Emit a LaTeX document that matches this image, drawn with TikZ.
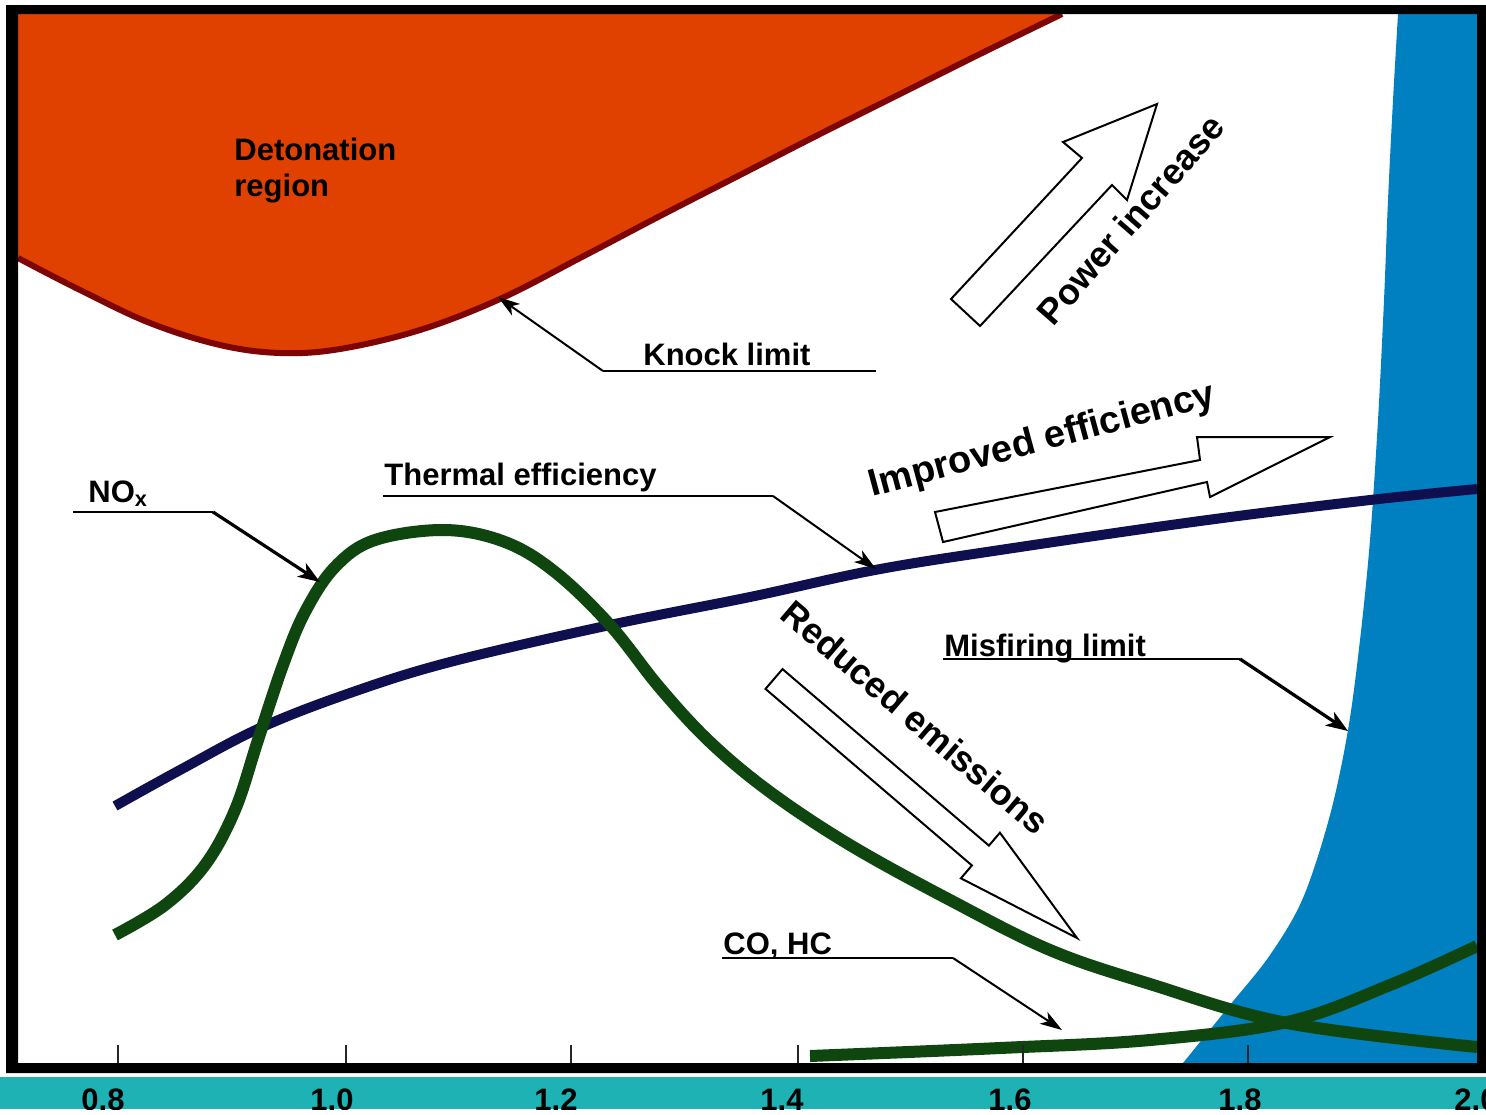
\documentclass[tikz,border=0pt]{standalone}
\usepackage{fontspec}
\setmainfont{Liberation Sans}
\usetikzlibrary{arrows.meta}
\definecolor{detorange}{RGB}{224,64,0}
\definecolor{knockred}{RGB}{125,5,5}
\definecolor{misblue}{RGB}{0,128,192}
\definecolor{thermnavy}{RGB}{15,15,80}
\definecolor{noxgreen}{RGB}{15,70,15}
\definecolor{bandteal}{RGB}{30,178,180}
\begin{document}
\begin{tikzpicture}[x=0.5pt,y=-0.5pt,
  lbl/.style={font=\fontsize{15.5}{18}\selectfont\bfseries, inner sep=0pt, anchor=base west},
  big/.style={font=\fontsize{18}{21}\selectfont\bfseries, inner sep=0pt, anchor=base west},
  ticklbl/.style={font=\fontsize{15.5}{18}\selectfont\bfseries, inner sep=0pt, anchor=base},
  ptr/.style={black, line width=1pt, -{Stealth[length=11pt,width=7pt,inset=3pt]}},
  ptrthick/.style={black, line width=1.6pt, -{Stealth[length=11pt,width=8pt,inset=3pt]}},
  uline/.style={black, line width=1pt},
  blockarrow/.style={draw=black, fill=white, line width=1pt, line join=miter},
  tickmark/.style={black!85, line width=1pt},
  curve/.style={line width=#1, line cap=butt, line join=round},
]
\useasboundingbox (0,0) rectangle (1486,1114);
\fill[white] (0,0) rectangle (1486,1114);

% detonation region
\fill[detorange] plot[smooth, tension=0.6] coordinates {(18,258) (80,290) (150,323) (220,345) (280,353) (340,349) (420,330) (500,299) (580,258) (660,216) (740,175) (820,134) (900,94) (980,54) (1062,14)} -- (18,14) -- cycle;
\draw[knockred, curve=3pt] plot[smooth, tension=0.6] coordinates {(18,258) (80,290) (150,323) (220,345) (280,353) (340,349) (420,330) (500,299) (580,258) (660,216) (740,175) (820,134) (900,94) (980,54) (1062,14)};

% misfiring region
\fill[misblue] plot[smooth, tension=0.55] coordinates {(1398,14) (1393,100) (1388,200) (1384,300) (1378,420) (1370,540) (1360,640) (1348,730) (1330,815) (1303,898) (1270,955) (1230,1005) (1183,1063)} -- (1477,1063) -- (1477,14) -- cycle;

% thermal efficiency
\draw[thermnavy, curve=5pt] plot[smooth, tension=0.6] coordinates {(115,806) (180,770) (260,728) (350,693) (450,662) (610,625) (750,597) (875,570) (1000,550) (1200,521) (1370,500) (1477,489)};

% NOx
\draw[noxgreen, curve=6pt] plot[smooth, tension=0.6] coordinates {(115,935) (165,905) (205,865) (235,810) (258,740) (283,665) (305,612) (335,567) (375,540) (445,530) (505,542) (555,572) (610,625) (660,688) (710,742) (770,792) (850,845) (950,900) (1050,950) (1150,984) (1287,1023) (1477,1047)};

% CO, HC
\draw[noxgreen, curve=6pt] plot[smooth, tension=0.6] coordinates {(810,1056) (1000,1048) (1150,1040) (1287,1022) (1390,985) (1477,946)};

% block arrows
\draw[blockarrow] (951,299) -- (1082,158) -- (1063,142) -- (1157,104) -- (1127,200) -- (1112,185) -- (980,326) -- cycle;
\draw[blockarrow] (935,512) -- (1200,460) -- (1197,437) -- (1330,437) -- (1210,497) -- (1207,482) -- (943,542) -- cycle;
\draw[blockarrow] (782.5,669.1) -- (988.9,845.6) -- (999.9,832.7) -- (1077,938) -- (960.9,878.3) -- (971.9,865.4) -- (765.5,688.9) -- cycle;

% big labels
\node[big, rotate=49] (power) at (1053,328) {Power increase};
\node[big, rotate=15, font=\fontsize{19}{22}\selectfont\bfseries] (improved) at (872,497) {Improved efficiency};
\node[big, rotate=-40.5] (reduced) at (778,617) {Reduced emissions};

% labels
\node[lbl] (deto1) at (234,160) {Detonation};
\node[lbl] (deto2) at (234,196) {region};
\node[lbl] (knock) at (643,365) {Knock limit};
\node[lbl] (thermal) at (384,485) {Thermal efficiency};
\node[lbl] (nox) at (88,502) {NO\textsubscript{x}};
\node[lbl] (misfire) at (944,656) {Misfiring limit};
\node[lbl] (coh) at (723,954) {CO, HC};

% leader lines
\coordinate (knA) at (876,371); \coordinate (knB) at (603,371); \coordinate (knT) at (498,297);
\draw[uline] (knA) -- (knB);
\draw[ptr] (knB) -- (knT);
\coordinate (thA) at (383,496); \coordinate (thB) at (773,496); \coordinate (thT) at (876,569);
\draw[uline] (thA) -- (thB);
\draw[ptr] (thB) -- (thT);
\coordinate (nxA) at (73,512); \coordinate (nxB) at (213,512); \coordinate (nxT) at (320,582);
\draw[uline] (nxA) -- (nxB);
\draw[ptrthick] (nxB) -- (nxT);
\coordinate (mfA) at (943,659); \coordinate (mfB) at (1240,659); \coordinate (mfT) at (1348,731);
\draw[uline] (mfA) -- (mfB);
\draw[ptrthick] (mfB) -- (mfT);
\coordinate (coA) at (722,958); \coordinate (coB) at (953,958); \coordinate (coT) at (1062,1030);
\draw[uline] (coA) -- (coB);
\draw[ptr] (coB) -- (coT);

% ticks
\foreach \tx in {118,346,571,798,1023,1248}
  \draw[tickmark] (\tx,1045) -- (\tx,1063);

% frame
\fill[black, even odd rule] (6,5) rectangle (1486,1073) (18,14) rectangle (1477,1063);

% axis band
\fill[bandteal] (0,1077) rectangle (1486,1109);
\begin{scope}
\clip (0,1077) rectangle (1486,1109);
\node[ticklbl] (t08) at (103,1110) {0.8};
\node[ticklbl] (t10) at (332,1110) {1.0};
\node[ticklbl] (t12) at (556,1110) {1.2};
\node[ticklbl] (t14) at (782,1110) {1.4};
\node[ticklbl] (t16) at (1010,1110) {1.6};
\node[ticklbl] (t18) at (1240,1110) {1.8};
\node[ticklbl] (t20) at (1476,1110) {2.0};
\end{scope}
\end{tikzpicture}
\end{document}
